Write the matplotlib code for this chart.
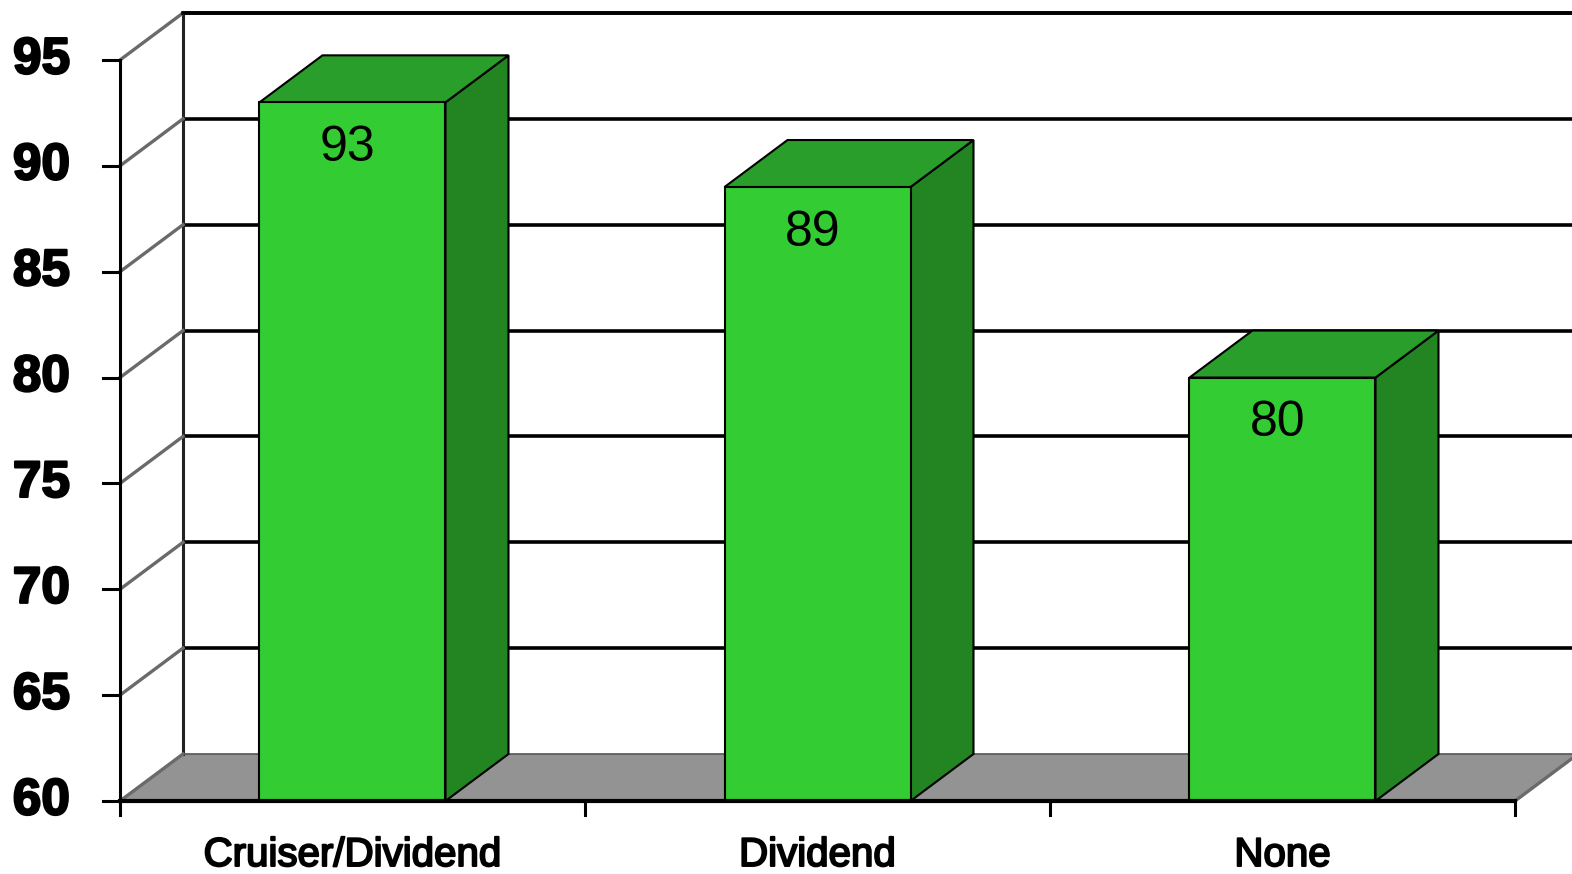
import matplotlib
matplotlib.use("Agg")
import matplotlib.pyplot as plt
from matplotlib.patches import Polygon, Rectangle
import matplotlib.patheffects as pe

categories = ["Cruiser/Dividend", "Dividend", "None"]
values = [93, 89, 80]
value_labels = ["93", "89", "80"]
y_ticks = [60, 65, 70, 75, 80, 85, 90, 95]
y_min, y_max = 60, 95

W, H = 1572, 874
fig = plt.figure(figsize=(W / 100, H / 100), dpi=100)
ax = fig.add_axes([0, 0, 1, 1])
ax.set_axis_off()

# pixel mapping of the front plane
x0_px, x3_px = 120, 1515
ppx = (x3_px - x0_px) / 3.0
y60_px, y95_px = 801, 60
ppy = (y60_px - y95_px) / (y_max - y_min)
ax.set_xlim(-x0_px / ppx, (W - x0_px) / ppx)
ax.set_ylim(y_min - (H - y60_px) / ppy, y_min + y60_px / ppy)

# depth offset
dx = 63 / ppx
dy = 47 / ppy
xr = (W + 20 - x0_px) / ppx  # extends off the right edge

front_c = "#33CC33"
top_c = "#2A9E2A"
side_c = "#228522"
floor_c = "#939393"

# floor
ax.add_patch(Polygon([(0, y_min), (3, y_min), (3 + dx, y_min + dy), (xr, y_min + dy),
                      (xr, y_min + dy), (dx, y_min + dy)], closed=True,
                     facecolor=floor_c, edgecolor="none", zorder=1))
# back wall gridlines
for t in y_ticks[1:]:
    ax.plot([dx, xr], [t + dy, t + dy], color="black", lw=2.6, zorder=2,
            solid_capstyle="butt")
ax.plot([dx, xr], [y_min + dy, y_min + dy], color="#555555", lw=1.2, zorder=2)
ax.plot([dx, dx], [y_min + dy, y_max + dy], color="#222222", lw=2.2, zorder=2)
# left wall diagonals
for t in y_ticks:
    ax.plot([0, dx], [t, t + dy], color="#6a6a6a", lw=2.4, zorder=2)
ax.plot([3, 3 + dx], [y_min, y_min + dy], color="#6a6a6a", lw=2.4, zorder=2)

# bars
bw = 0.4
for i, (v, lab) in enumerate(zip(values, value_labels)):
    c = i + 0.5
    l, r = c - bw / 2, c + bw / 2
    ax.add_patch(Polygon([(r, y_min), (r + dx, y_min + dy), (r + dx, v + dy), (r, v)],
                         closed=True, facecolor=side_c, edgecolor="black", lw=1.5, zorder=4))
    ax.add_patch(Polygon([(l, v), (r, v), (r + dx, v + dy), (l + dx, v + dy)],
                         closed=True, facecolor=top_c, edgecolor="black", lw=1.5, zorder=4))
    ax.add_patch(Rectangle((l, y_min), bw, v - y_min, facecolor=front_c,
                           edgecolor="black", lw=1.5, zorder=5))
    ax.text(c - 0.01, v - 2.15, lab, ha="center", va="center", fontsize=36,
            family="Liberation Sans", color="black", zorder=6)

# front axes
ax.plot([0, 0], [y_min, y_max], color="black", lw=2.2, zorder=7)
ax.plot([0, 3], [y_min, y_min], color="black", lw=3, zorder=7)
tick_len_x = 17 / ppx
tick_len_y = 14 / ppy
thick = [pe.withStroke(linewidth=1.6, foreground="black")]
for t in y_ticks:
    ax.plot([-tick_len_x, 0], [t, t], color="black", lw=2.2, zorder=7)
    ax.text(-50 / ppx, t, str(t), ha="right", va="center", fontsize=37,
            fontweight="bold", family="Liberation Sans", color="black",
            path_effects=thick)
for k in range(4):
    ax.plot([k, k], [y_min, y_min - tick_len_y], color="black", lw=2.2, zorder=7)
for i, cat in enumerate(categories):
    ax.text(i + 0.5, y_min - 54 / ppy, cat, ha="center", va="center", fontsize=29,
            family="Liberation Sans", color="black",
            path_effects=[pe.withStroke(linewidth=1.4, foreground="black")])

# top frame line
ax.plot([dx, xr], [y_max + dy, y_max + dy], color="black", lw=2.6, zorder=2)

fig.savefig("out.png", dpi=100)
